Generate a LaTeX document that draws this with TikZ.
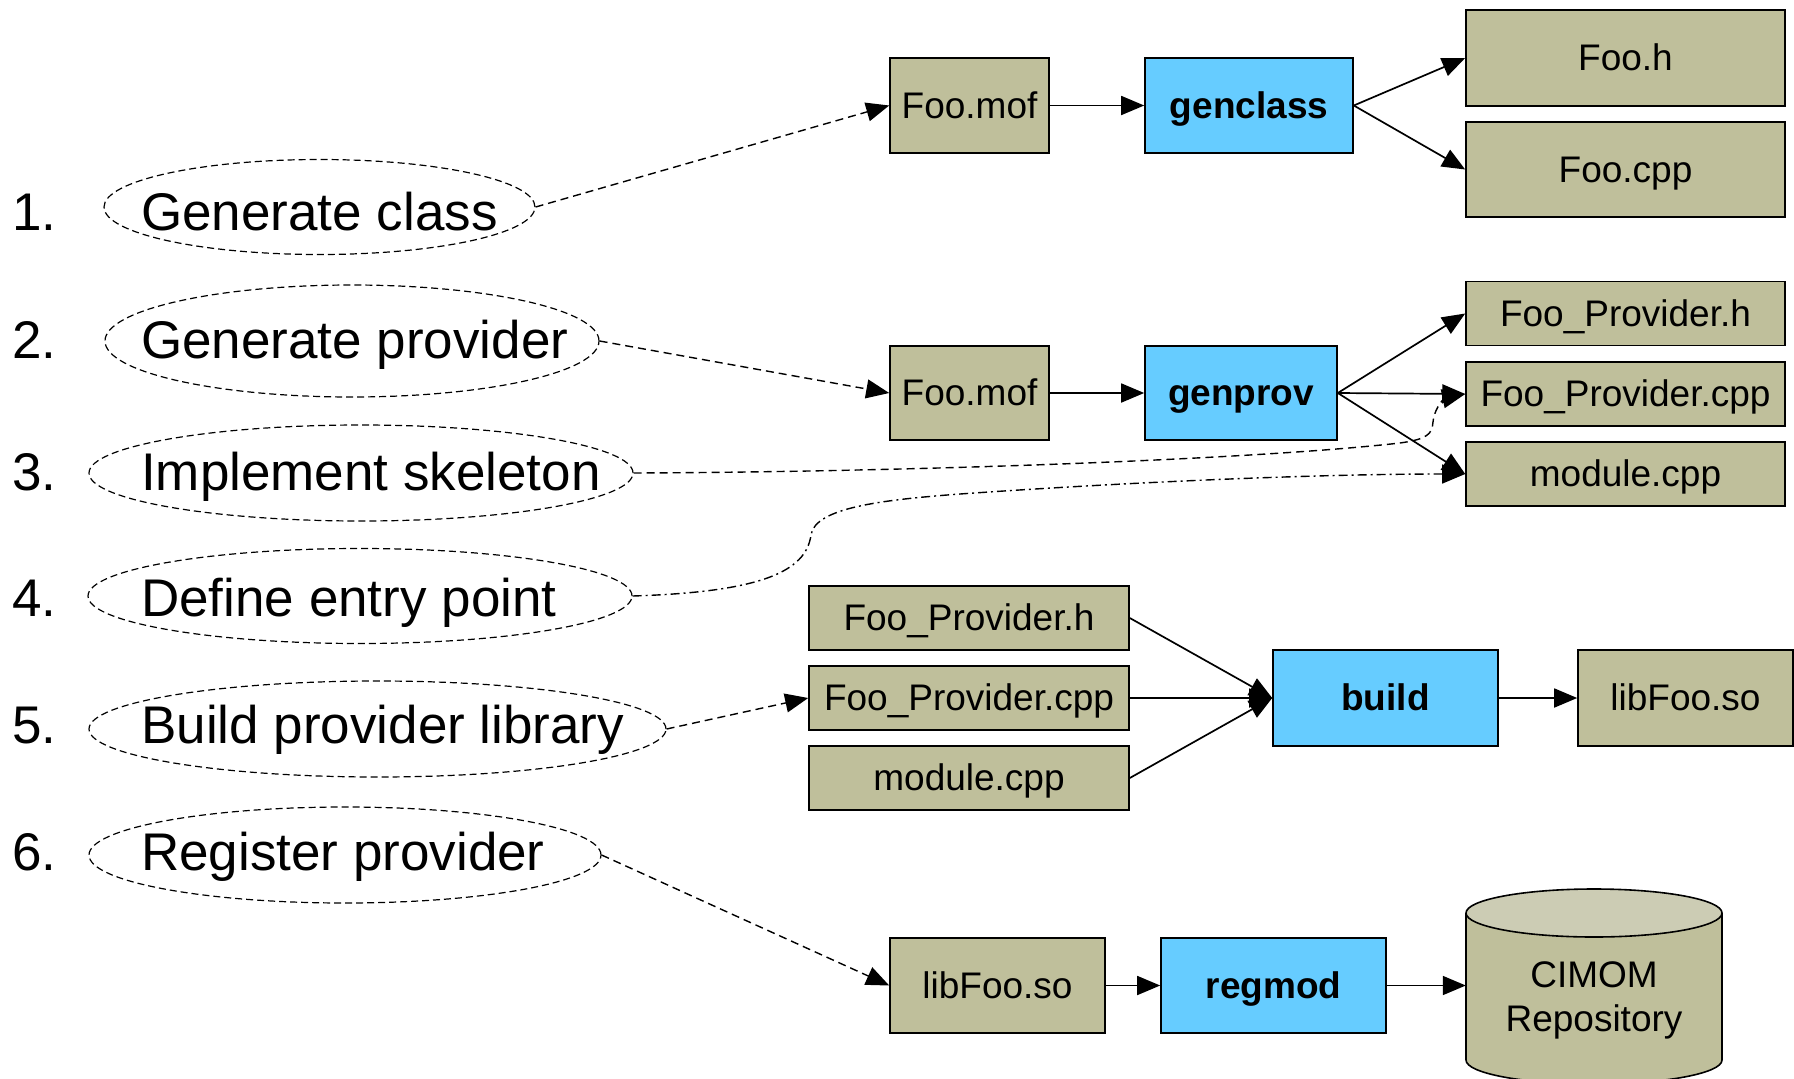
\documentclass[tikz,border=0pt]{standalone}
\usepackage{fontspec}
\setmainfont{Liberation Sans}
\usetikzlibrary{arrows.meta,shapes.geometric}

\definecolor{filetan}{RGB}{191,191,155}
\definecolor{filetantop}{RGB}{204,204,180}
\definecolor{toolblue}{RGB}{102,204,255}

\tikzset{
  filebox/.style={draw=black, line width=1.6pt, fill=filetan, inner sep=0pt,
    font=\fontsize{37}{44}\selectfont, text height=25.5pt, text depth=0pt},
  toolbox/.style={filebox, fill=toolblue, font=\fontsize{37}{44}\selectfont\bfseries},
  stepoval/.style={ellipse, draw, dash pattern=on 7pt off 4pt, line width=1.2pt, inner sep=0pt},
  steplabel/.style={anchor=west, inner sep=0pt, font=\fontsize{53}{60}\selectfont,
    text height=36.5pt, text depth=0pt},
  flow/.style={line width=1.7pt, -{Triangle[length=23pt,width=19pt]}},
  hint/.style={flow, line width=1.4pt, dash pattern=on 8pt off 5pt},
  hintdot/.style={flow, line width=1.4pt, dash pattern=on 9pt off 4pt on 2pt off 4pt},
}

\begin{document}
\begin{tikzpicture}[x=1pt,y=-1pt]
\path[use as bounding box] (0,0) rectangle (1794,1079);
\clip (0,0) rectangle (1794,1079);
\fill[white] (0,0) rectangle (1794,1079);

% ---- numbered steps ----
\node[stepoval, minimum width=431pt, minimum height=95pt]  (e1) at (319.5,207) {};
\node[stepoval, minimum width=494pt, minimum height=112pt] (e2) at (352,341) {};
\node[stepoval, minimum width=544pt, minimum height=96pt]  (e3) at (361,473) {};
\node[stepoval, minimum width=544pt, minimum height=95pt]  (e4) at (360,596) {};
\node[stepoval, minimum width=577pt, minimum height=96pt]  (e5) at (377.5,729) {};
\node[stepoval, minimum width=512pt, minimum height=96pt]  (e6) at (345,855) {};

\node[steplabel] (n1) at (12,212) {1.};
\node[steplabel] (n2) at (12,340) {2.};
\node[steplabel] (n3) at (12,472) {3.};
\node[steplabel] (n4) at (12,598) {4.};
\node[steplabel] (n5) at (12,725) {5.};
\node[steplabel] (n6) at (12,852) {6.};

\node[steplabel] (t1) at (141,212) {Generate class};
\node[steplabel] (t2) at (141,340) {Generate provider};
\node[steplabel] (t3) at (141,472) {Implement skeleton};
\node[steplabel] (t4) at (141,598) {Define entry point};
\node[steplabel] (t5) at (141,725) {Build provider library};
\node[steplabel] (t6) at (141,852) {Register provider};

% ---- genclass ----
\node[filebox, minimum width=159pt, minimum height=95pt] (mof1) at (969.5,105.5) {Foo.mof};
\node[toolbox, minimum width=208pt, minimum height=95pt] (genclass) at (1249,105.5) {genclass};
\node[filebox, minimum width=319pt, minimum height=96pt] (fooh) at (1625.5,58) {Foo.h};
\node[filebox, minimum width=319pt, minimum height=95pt] (foocpp) at (1625.5,169.5) {Foo.cpp};

% ---- genprov ----
\node[filebox, minimum width=159pt, minimum height=94pt] (mof2) at (969.5,393) {Foo.mof};
\node[toolbox, minimum width=192pt, minimum height=94pt] (genprov) at (1241,393) {genprov};
\node[filebox, minimum width=319pt, minimum height=64pt] (fph) at (1625.5,313.5) {Foo\_Provider.h};
\node[filebox, minimum width=319pt, minimum height=64pt] (fpcpp) at (1625.5,394) {Foo\_Provider.cpp};
\node[filebox, minimum width=319pt, minimum height=64pt] (modcpp) at (1625.5,474) {module.cpp};

% ---- build ----
\node[filebox, minimum width=320pt, minimum height=64pt] (fphb) at (969,618) {Foo\_Provider.h};
\node[filebox, minimum width=320pt, minimum height=64pt] (fpcppb) at (969,698) {Foo\_Provider.cpp};
\node[filebox, minimum width=320pt, minimum height=64pt] (modb) at (969,778) {module.cpp};
\node[toolbox, minimum width=225pt, minimum height=96pt] (build) at (1385.5,698) {build};
\node[filebox, minimum width=215pt, minimum height=96pt] (libb) at (1685.5,698) {libFoo.so};

% ---- regmod ----
\node[filebox, minimum width=215pt, minimum height=95pt] (libr) at (997.5,985.5) {libFoo.so};
\node[toolbox, minimum width=225pt, minimum height=95pt] (regmod) at (1273.5,985.5) {regmod};

% repository cylinder
\fill[filetan] (1466,913) -- (1466,1060)
  arc[start angle=180, end angle=360, x radius=128pt, y radius=24pt] -- (1722,913) -- cycle;
\draw[line width=1.6pt] (1466,913) -- (1466,1060)
  arc[start angle=180, end angle=360, x radius=128pt, y radius=24pt] -- (1722,913);
\draw[line width=1.6pt, fill=filetantop] (1594,913) ellipse [x radius=128pt, y radius=24pt];
\node[inner sep=0pt, minimum width=256pt, minimum height=147pt] (repo) at (1594,985.5) {};
\node[inner sep=0pt, align=center, font=\fontsize{37}{44}\selectfont] (repotext) at (1594,1000) {CIMOM\\Repository};

% ---- connectors ----
\draw[hint] (e1.east) -- (mof1.west);
\draw[flow] (mof1.east) -- (genclass.west);
\draw[flow] (genclass.east) -- (fooh.west);
\draw[flow] (genclass.east) -- (foocpp.west);

\draw[hint] (e2.east) -- (mof2.west);
\draw[flow] (mof2.east) -- (genprov.west);
\draw[flow] (genprov.east) -- (fph.west);
\draw[flow] (genprov.east) -- (fpcpp.west);
\draw[flow] (genprov.east) -- (modcpp.west);

\draw[hint] (e3.east) .. controls (900,472) and (1250,460) .. (1400,443)
  .. controls (1428,439) and (1432,434) .. (1433,422)
  .. controls (1435,405) and (1446,398) .. (fpcpp.west);
\draw[hintdot] (e4.east) .. controls (760,592) and (806,572) .. (811,535)
  .. controls (815,508) and (880,500) .. (960,494)
  .. controls (1100,484) and (1300,474) .. (modcpp.west);

\draw[hint] (e5.east) -- (fpcppb.west);
\draw[flow] (fphb.east) -- (build.west);
\draw[flow] (fpcppb.east) -- (build.west);
\draw[flow] (modb.east) -- (build.west);
\draw[flow] (build.east) -- (libb.west);

\draw[hint] (e6.east) -- (libr.west);
\draw[flow] (libr.east) -- (regmod.west);
\draw[flow] (regmod.east) -- (repo.west);
\end{tikzpicture}
\end{document}
